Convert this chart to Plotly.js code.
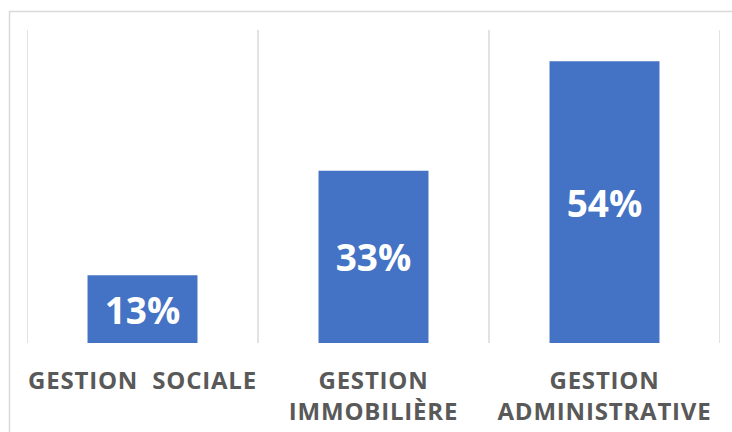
<!DOCTYPE html>
<html><head><meta charset="utf-8">
<script src="https://cdn.plot.ly/plotly-3.0.1.min.js"></script>
<style>
html,body{margin:0;padding:0;background:#fff;}
.xtick text{letter-spacing:0.8px;}
</style>
</head><body>
<div id="chart" style="width:732px;height:432px;"></div>
<script>
const categories = ["GESTION  SOCIALE", "GESTION<br>IMMOBILIÈRE", "GESTION<br>ADMINISTRATIVE"];
const values = [13, 33, 54];
const valueLabels = ["13%", "33%", "54%"];

const L = 27, R = 12, T = 30, B = 89, W = 732, H = 432;
const pw = W - L - R, ph = H - T - B;
const px = v => (v - L) / pw;
const py = v => (H - B - v) / ph;

const shapes = [];
[-0.5, 0.5, 1.5, 2.5].forEach(x => shapes.push({
  type: 'line', xref: 'x', yref: 'paper', x0: x, x1: x, y0: 0, y1: 1,
  line: {color: '#d9d9d9', width: 1.5}, layer: 'below'
}));
shapes.push({
  type: 'rect', xref: 'paper', yref: 'paper',
  x0: px(9.5), x1: px(740), y0: py(440), y1: py(11.5),
  line: {color: '#d9d9d9', width: 1.5}, fillcolor: 'rgba(0,0,0,0)'
});

const trace = {
  type: 'bar', x: [0, 1, 2], y: values, text: valueLabels,
  textposition: 'inside', insidetextanchor: 'middle', textangle: 0,
  textfont: {family: 'Open Sans', size: 37, color: '#ffffff', weight: 700},
  marker: {color: '#4472C4'}, width: 0.476, hoverinfo: 'none', cliponaxis: false
};

const layout = {
  width: W, height: H, margin: {l: L, r: R, t: T, b: B},
  paper_bgcolor: '#fff', plot_bgcolor: '#fff', showlegend: false,
  xaxis: {
    range: [-0.5, 2.5], tickmode: 'array', tickvals: [0, 1, 2], ticktext: categories,
    showgrid: false, zeroline: false, showline: false, ticks: '',
    tickfont: {family: 'Open Sans', size: 24, color: '#595959', weight: 700},
    ticklabelstandoff: 21, fixedrange: true
  },
  yaxis: {range: [0, 60], showgrid: false, zeroline: false, showticklabels: false, showline: false, fixedrange: true},
  shapes: shapes,
  uniformtext: {mode: false}
};

Plotly.newPlot('chart', [trace], layout, {displayModeBar: false, staticPlot: true});
</script>
</body></html>
